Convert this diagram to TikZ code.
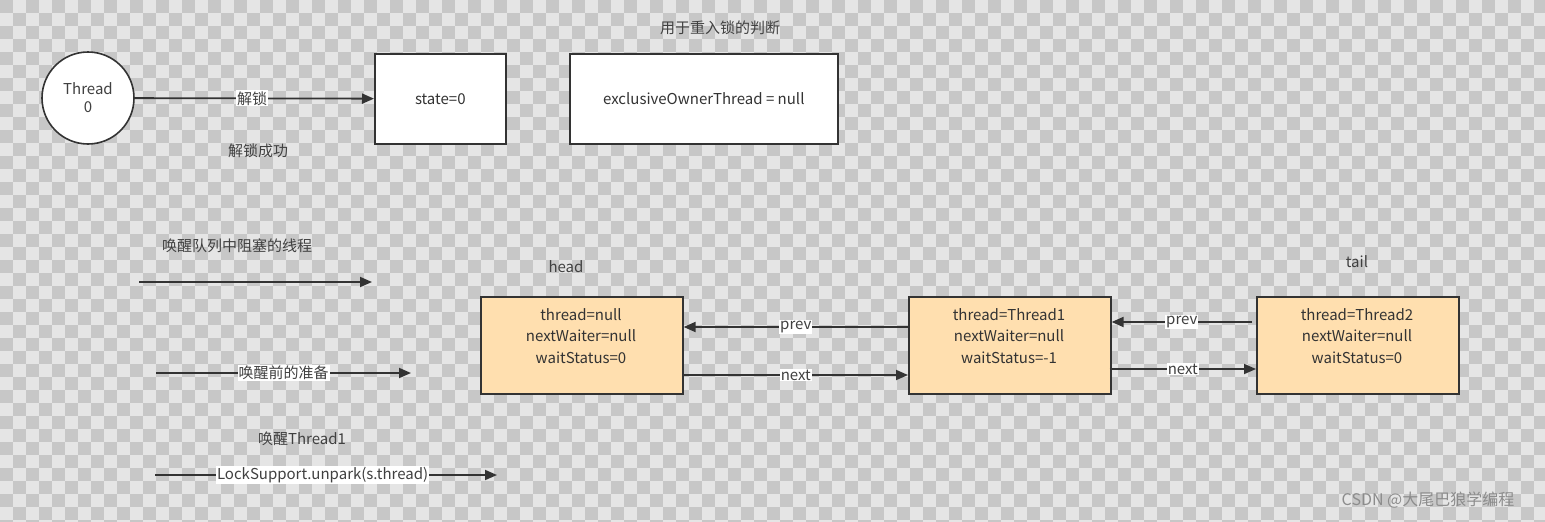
\documentclass[tikz,border=0pt]{standalone}
\usepackage{fontspec}
\setmainfont{Noto Sans CJK SC}
\usetikzlibrary{arrows.meta}
\begin{document}
\begin{tikzpicture}[x=1pt,y=-1pt,
  txt/.style={font=\fontsize{15}{17}\selectfont,text=black!75},
  box/.style={draw=black!80,line width=1.6pt,fill=white,inner sep=0pt,anchor=north west,font=\fontsize{15}{17}\selectfont,text=black!80},
  qbox/.style={draw=black!80,line width=1.6pt,fill=qfill,minimum width=202pt,minimum height=97pt,anchor=north west},
  qtxt/.style={align=center,font=\fontsize{15}{21.5}\selectfont,text=black!80},
  arr/.style={draw=black!80,line width=1.8pt,-{Triangle[length=12pt,width=10pt]}},
  lab/.style={fill=white,inner sep=1pt,font=\fontsize{15}{17}\selectfont,text=black!75}]
\definecolor{qfill}{HTML}{FFDFAF}
\useasboundingbox (0,0) rectangle (1545,522);
\fill[black!10] (0,0) rectangle (1545,522);
\foreach \i in {0,...,59}{\foreach \j in {0,...,20}{
  \fill[black!22] (\i*26,\j*26) rectangle ++(13,13);
  \fill[black!22] (\i*26+13,\j*26+13) rectangle ++(13,13);}}
% top row
\node[circle,draw=black!80,line width=1.6pt,fill=white,minimum size=92pt,align=center,font=\fontsize{15}{18}\selectfont,text=black!75] (t0) at (88,98) {Thread\\0};
\node[box,minimum width=131pt,minimum height=90pt] (st) at (374,53) {state=0};
\node[box,minimum width=268pt,minimum height=90pt] (ex) at (569,53) {exclusiveOwnerThread = null};
\draw[arr] (t0) -- node[lab,pos=0.49]{解锁} (st);
\node[txt] (ok) at (258,151) {解锁成功};
\node[txt] (re) at (720,28) {用于重入锁的判断};
% left legend arrows
\node[txt] (w1) at (237,246) {唤醒队列中阻塞的线程};
\coordinate (a1s) at (139,282); \coordinate (a1e) at (372,282);
\draw[arr] (a1s) -- (a1e);
\coordinate (a2s) at (156,373); \coordinate (a2e) at (411,373);
\draw[arr] (a2s) -- node[lab,pos=0.5]{唤醒前的准备} (a2e);
\node[txt] (w3) at (302,439) {唤醒Thread1};
\coordinate (a3s) at (155,475); \coordinate (a3e) at (497,475);
\draw[arr] (a3s) -- node[lab,pos=0.49]{LockSupport.unpark(s.thread)} (a3e);
% queue
\node[qbox] (b1) at (480,296) {};
\node[qbox] (b2) at (908,296) {};
\node[qbox] (b3) at (1256,296) {};
\node[qtxt] (t1) at (581,336) {thread=null\\nextWaiter=null\\waitStatus=0};
\node[qtxt] (t2) at (1009,336) {thread=Thread1\\nextWaiter=null\\waitStatus=-1};
\node[qtxt] (t3) at (1357,336) {thread=Thread2\\nextWaiter=null\\waitStatus=0};
\node[txt] (hd) at (566,267) {head};
\node[txt] (tl) at (1357,262) {tail};
\draw[arr] ([yshift=-31pt]b2.north west) -- node[lab]{prev} ([yshift=-31pt]b1.north east);
\draw[arr] ([yshift=-79pt]b1.north east) -- node[lab]{next} ([yshift=-79pt]b2.north west);
\draw[arr] ([yshift=-26pt,xshift=-4pt]b3.north west) -- node[lab]{prev} ([yshift=-26pt]b2.north east);
\draw[arr] ([yshift=-73pt,xshift=-2pt]b2.north east) -- node[lab]{next} ([yshift=-73pt]b3.north west);
\node[font=\fontsize{16}{18}\selectfont,text=black!45] (wm) at (1428,500) {CSDN @大尾巴狼学编程};
\end{tikzpicture}
\end{document}
